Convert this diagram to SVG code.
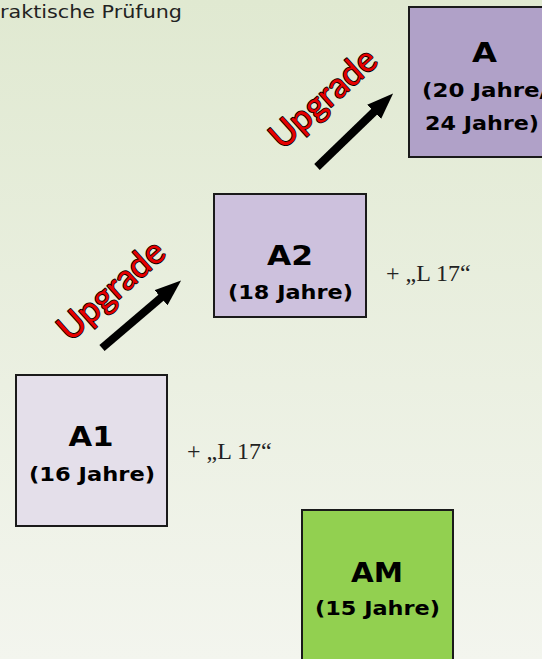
<svg xmlns="http://www.w3.org/2000/svg" width="542" height="659" viewBox="0 0 542 659">
<defs>
<linearGradient id="bg" x1="0" y1="0" x2="0" y2="1">
<stop offset="0" stop-color="#e0e9d1"/>
<stop offset="1" stop-color="#f3f5ee"/>
</linearGradient>
<marker id="ah" viewBox="0 0 10 10" refX="1" refY="5" markerWidth="3.3" markerHeight="2.5" orient="auto" markerUnits="strokeWidth" preserveAspectRatio="none">
<path d="M0,0 L10,5 L0,10 Z" fill="#000"/>
</marker>
<style>
.box{stroke:#1a1a1a;stroke-width:2}
.t1{font-family:"DejaVu Sans",Verdana,sans-serif;font-weight:bold;font-size:27px;fill:#000;text-anchor:middle}
.t2{font-family:"DejaVu Sans",Verdana,sans-serif;font-weight:bold;font-size:20px;fill:#000;text-anchor:middle}
.t3{font-family:"DejaVu Sans",Verdana,sans-serif;font-weight:bold;font-size:20px;fill:#000}
.l17{font-family:"Liberation Serif","Times New Roman",serif;font-size:24px;fill:#222}
.up{font-family:Lato,"Open Sans",sans-serif;font-size:35px;fill:#e60000;stroke:#000;stroke-width:1.7;paint-order:stroke;stroke-linejoin:round;text-anchor:middle}
.arr{stroke:#000;stroke-width:8;fill:none}
</style>
</defs>
<rect x="0" y="0" width="542" height="659" fill="url(#bg)"/>
<text x="0" y="18" font-family="'DejaVu Sans',Verdana,sans-serif" font-size="18" textLength="182" lengthAdjust="spacingAndGlyphs" fill="#222">raktische Prüfung</text>
<g id="node-A">
<rect class="box" x="409" y="7" width="151" height="150" fill="#b0a1c8"/>
<text class="t1" x="484.5" y="62" textLength="25" lengthAdjust="spacingAndGlyphs">A</text>
<text class="t3" x="422" y="97" textLength="126" lengthAdjust="spacingAndGlyphs">(20 Jahre/</text>
<text class="t3" x="425" y="130" textLength="114" lengthAdjust="spacingAndGlyphs">24 Jahre)</text>
</g>
<g id="node-A2">
<rect class="box" x="214" y="194" width="152" height="123" fill="#cdc1dd"/>
<text class="t1" x="290" y="265" textLength="46" lengthAdjust="spacingAndGlyphs">A2</text>
<text class="t2" x="290.5" y="299" textLength="125" lengthAdjust="spacingAndGlyphs">(18 Jahre)</text>
</g>
<g id="node-A1">
<rect class="box" x="16" y="375" width="151" height="151" fill="#e4dfea"/>
<text class="t1" x="91" y="446" textLength="45" lengthAdjust="spacingAndGlyphs">A1</text>
<text class="t2" x="92" y="481" textLength="126" lengthAdjust="spacingAndGlyphs">(16 Jahre)</text>
</g>
<g id="node-AM">
<rect class="box" x="302" y="510" width="151" height="160" fill="#92d050"/>
<text class="t1" x="377" y="582" textLength="52" lengthAdjust="spacingAndGlyphs">AM</text>
<text class="t2" x="377.5" y="615" textLength="125" lengthAdjust="spacingAndGlyphs">(15 Jahre)</text>
</g>
<g id="labels">
<text class="up" transform="translate(119,299) rotate(-42)">Upgrade</text>
<text class="up" transform="translate(331,107) rotate(-42)">Upgrade</text>
<text class="l17" x="386" y="281">+ „L 17“</text>
<text class="l17" x="187" y="459">+ „L 17“</text>
</g>
<g id="connectors">
<line class="arr" x1="102" y1="348" x2="163" y2="296" marker-end="url(#ah)"/>
<line class="arr" x1="317" y1="167" x2="376" y2="110" marker-end="url(#ah)"/>
</g>
</svg>
